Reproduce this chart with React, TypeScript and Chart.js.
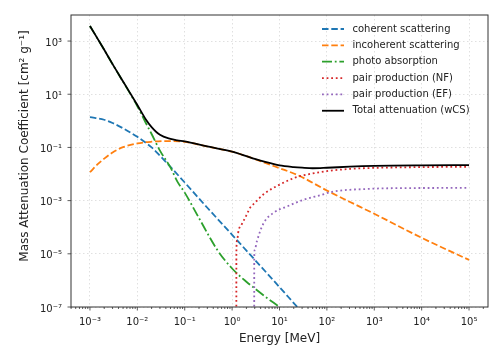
import React, { useEffect, useRef } from 'react';
import { Chart, registerables } from 'chart.js';
Chart.register(...registerables);

// ---- data (energy in MeV, mass attenuation coefficient in cm^2/g) ----
const coherentE = [1e-3, 2e-3, 3e-3, 5e-3, 1e-2, 2e-2, 3e-2, 5e-2, 0.1, 0.3, 1, 3, 10, 30, 100];
const coherentMu = [1.37, 1.1, 0.83, 0.525, 0.25, 0.1, 0.049, 0.0186, 4.8e-3, 5.4e-4, 5.2e-5, 6.0e-6, 5.6e-7, 6.3e-8, 6.3e-9];

const incoherentE = [1e-3, 1.5e-3, 2e-3, 3e-3, 5e-3, 1e-2, 2e-2, 4e-2, 0.1, 0.3, 1, 2, 3, 5, 10, 20, 30, 100, 300, 1e3, 1e4, 1e5];
const incoherentMu = [0.0117, 0.0245, 0.038, 0.0645, 0.102, 0.142, 0.164, 0.174, 0.162, 0.108, 0.069, 0.0468, 0.0363, 0.0263, 0.0166, 0.0105, 0.0076, 0.0024, 9.1e-4, 3.2e-4, 4.0e-5, 5.9e-6];

const photoE = [1e-3, 2e-3, 3e-3, 5e-3, 1e-2, 1.5e-2, 2e-2, 3e-2, 5e-2, 7e-2, 0.1, 0.2, 0.5, 1, 2, 3, 5, 10, 20];
const photoMu = [3700, 470, 135, 29.5, 3.55, 0.85, 0.32, 0.076, 0.0178, 5.2e-3, 2.0e-3, 2.2e-4, 1.3e-5, 2.8e-6, 8.9e-7, 5.0e-7, 2.45e-7, 1.0e-7, 4.0e-8];

const pairNfE = [1.225, 1.23, 1.27, 1.37, 1.62, 2, 2.41, 3, 4.6, 10.35, 20, 30, 50, 100, 300, 1e3, 1e4, 1e5];
const pairNfMu = [1e-12, 1e-5, 3.2e-5, 7.6e-5, 1.35e-4, 2.8e-4, 5.5e-4, 8.1e-4, 1.74e-3, 4.1e-3, 7.0e-3, 8.7e-3, 0.0105, 0.0129, 0.0155, 0.017, 0.0182, 0.0186];

const pairEfE = [2.92, 2.93, 3.0, 3.34, 4.6, 7.5, 14.3, 32, 72, 140, 700, 3500, 1e5];
const pairEfMu = [1e-12, 6.3e-6, 1.4e-5, 3.0e-5, 1.4e-4, 3.5e-4, 6.0e-4, 1.07e-3, 1.6e-3, 2.2e-3, 2.75e-3, 2.95e-3, 3.0e-3];

const totalE = [1e-3, 2e-3, 3e-3, 5e-3, 1e-2, 1.5e-2, 2e-2, 3e-2, 5e-2, 7e-2, 0.1, 0.3, 1, 2, 3, 5, 10, 20, 30, 50, 100, 300, 1e3, 1e4, 1e5];
const totalMu = [3700, 471, 136, 30.1, 3.94, 1.155, 0.584, 0.297, 0.21, 0.186, 0.169, 0.1086, 0.0692, 0.0471, 0.0372, 0.0285, 0.0212, 0.0183, 0.0173, 0.0165, 0.0172, 0.0189, 0.0202, 0.0212, 0.0216];

const seriesLabels = [
  'coherent scattering',
  'incoherent scattering',
  'photo absorption',
  'pair production (NF)',
  'pair production (EF)',
  'Total attenuation (wCS)',
];

const xTickValues = [1e-3, 1e-2, 1e-1, 1, 10, 100, 1e3, 1e4, 1e5];
const xTickLabels = ['10⁻³', '10⁻²', '10⁻¹', '10⁰', '10¹', '10²', '10³', '10⁴', '10⁵'];
const yTickValues = [1e-7, 1e-5, 1e-3, 1e-1, 10, 1e3];
const yTickLabels = ['10⁻⁷', '10⁻⁵', '10⁻³', '10⁻¹', '10¹', '10³'];
const xMinorMultipliers = [2, 3, 4, 5, 6, 7, 8, 9];

const X_MIN = Math.pow(10, -3.4);
const X_MAX = Math.pow(10, 5.4);
const Y_MIN = 1e-7;
const Y_MAX = Math.pow(10, 3.98);

const FONT = '"DejaVu Sans", sans-serif';

const pts = (E: number[], M: number[]) => E.map((x, i) => ({ x, y: M[i] }));

const decorPlugin = {
  id: 'decor',
  afterDraw(chart: any) {
    const { ctx, chartArea } = chart;
    const { left, right, top, bottom } = chartArea;
    const xs = chart.scales.x;
    const ys = chart.scales.y;
    ctx.save();
    // tick marks
    ctx.strokeStyle = '#333';
    ctx.lineWidth = 0.8;
    ctx.setLineDash([]);
    for (let d = -4; d <= 5; d++) {
      const base = Math.pow(10, d);
      if (base >= X_MIN && base <= X_MAX) {
        const px = xs.getPixelForValue(base);
        ctx.beginPath();
        ctx.moveTo(px, bottom);
        ctx.lineTo(px, bottom + 3.5);
        ctx.stroke();
      }
      for (const m of xMinorMultipliers) {
        const v = m * base;
        if (v < X_MIN || v > X_MAX) continue;
        const px = xs.getPixelForValue(v);
        ctx.beginPath();
        ctx.moveTo(px, bottom);
        ctx.lineTo(px, bottom + 2);
        ctx.stroke();
      }
    }
    for (const v of yTickValues) {
      const py = ys.getPixelForValue(v);
      ctx.beginPath();
      ctx.moveTo(left, py);
      ctx.lineTo(left - 3.5, py);
      ctx.stroke();
    }
    // frame
    ctx.strokeStyle = '#333';
    ctx.lineWidth = 1;
    ctx.strokeRect(left, top, right - left, bottom - top);

    // legend
    ctx.font = '10px ' + FONT;
    ctx.textBaseline = 'middle';
    ctx.textAlign = 'left';
    chart.data.datasets.forEach((ds: any, i: number) => {
      const y = top + 14 + i * 16.35;
      ctx.strokeStyle = ds.borderColor;
      ctx.lineWidth = ds.borderWidth;
      ctx.setLineDash(ds.borderDash || []);
      ctx.beginPath();
      ctx.moveTo(right - 166, y);
      ctx.lineTo(right - 144, y);
      ctx.stroke();
      ctx.setLineDash([]);
      ctx.fillStyle = '#222';
      ctx.fillText(ds.label, right - 135.5, y);
    });

    // axis titles
    ctx.fillStyle = '#222';
    ctx.font = '12px ' + FONT;
    ctx.textAlign = 'center';
    ctx.textBaseline = 'alphabetic';
    ctx.fillText('Energy [MeV]', (left + right) / 2, 342);
    ctx.translate(27.5, 146);
    ctx.rotate(-Math.PI / 2);
    ctx.fillText('Mass Attenuation Coefficient [cm² g⁻¹]', 0, 0);
    ctx.restore();
  },
};

export default function App() {
  const ref = useRef<HTMLCanvasElement | null>(null);
  useEffect(() => {
    if (!ref.current) return;
    Chart.defaults.font.family = FONT;
    const common = {
      pointRadius: 0,
      pointHoverRadius: 0,
      fill: false,
      borderWidth: 1.8,
      cubicInterpolationMode: 'monotone' as const,
    };
    const chart = new Chart(ref.current, {
      type: 'line',
      data: {
        datasets: [
          { ...common, label: seriesLabels[0], data: pts(coherentE, coherentMu), borderColor: '#1f77b4', borderDash: [6.5, 2.8], order: 6 },
          { ...common, label: seriesLabels[1], data: pts(incoherentE, incoherentMu), borderColor: '#ff7f0e', borderDash: [6.5, 2.8], order: 5 },
          { ...common, label: seriesLabels[2], data: pts(photoE, photoMu), borderColor: '#2ca02c', borderDash: [10, 2.8, 1.8, 2.8], order: 4 },
          { ...common, label: seriesLabels[3], data: pts(pairNfE, pairNfMu), borderColor: '#d62728', borderDash: [1.8, 2.8], order: 3 },
          { ...common, label: seriesLabels[4], data: pts(pairEfE, pairEfMu), borderColor: '#9467bd', borderDash: [1.8, 2.8], order: 2 },
          { ...common, label: seriesLabels[5], data: pts(totalE, totalMu), borderColor: '#000000', borderDash: [], order: 1 },
        ],
      },
      options: {
        responsive: false,
        animation: false,
        devicePixelRatio: 1,
        events: [],
        layout: { padding: { left: 0, right: 10, top: 11, bottom: 0 } },
        plugins: { legend: { display: false }, tooltip: { enabled: false } },
        scales: {
          x: {
            type: 'logarithmic',
            min: X_MIN,
            max: X_MAX,
            afterBuildTicks: (s: any) => {
              s.ticks = xTickValues.map((v) => ({ value: v }));
            },
            afterFit: (s: any) => {
              s.height = 48;
            },
            ticks: {
              autoSkip: false,
              maxRotation: 0,
              minRotation: 0,
              padding: 9,
              color: '#222',
              font: { size: 10, family: FONT },
              callback: (_v: any, i: number) => xTickLabels[i],
            },
            grid: { color: '#d8d8d8', lineWidth: 0.8, drawTicks: false },
            border: { display: false, dash: [1.5, 2.5] },
          },
          y: {
            type: 'logarithmic',
            min: Y_MIN,
            max: Y_MAX,
            afterBuildTicks: (s: any) => {
              s.ticks = yTickValues.map((v) => ({ value: v }));
            },
            afterFit: (s: any) => {
              s.width = 71;
            },
            ticks: {
              autoSkip: false,
              padding: 9,
              labelOffset: 2,
              color: '#222',
              font: { size: 10, family: FONT },
              callback: (_v: any, i: number) => yTickLabels[i],
            },
            grid: { color: '#d8d8d8', lineWidth: 0.8, drawTicks: false },
            border: { display: false, dash: [1.5, 2.5] },
          },
        },
      },
      plugins: [decorPlugin],
    } as any);
    return () => chart.destroy();
  }, []);
  return (
    <div style={{ position: 'absolute', left: 0, top: 0, width: 498, height: 355, background: '#fff' }}>
      <canvas ref={ref} width={498} height={355} style={{ display: 'block' }} />
    </div>
  );
}
